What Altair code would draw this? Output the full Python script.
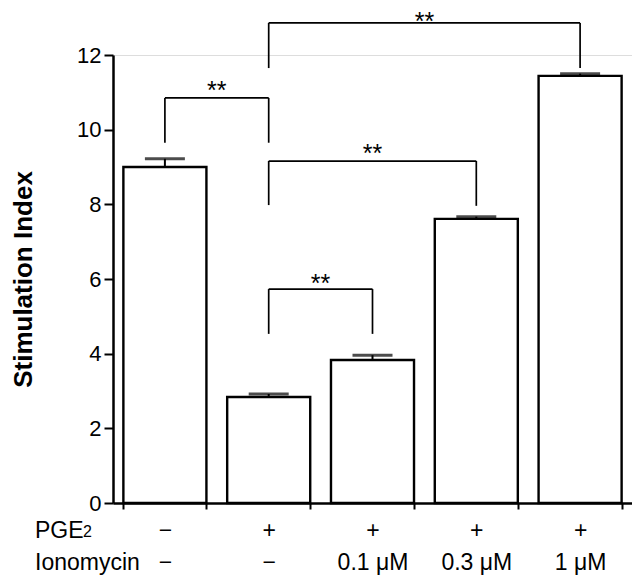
import altair as alt
import pandas as pd

# ---- data ----
pge = ["−", "+", "+", "+", "+"]
iono = ["−", "−", "0.1 μM", "0.3 μM", "1 μM"]
means = [9.0, 2.84, 3.83, 7.61, 11.44]
errs = [0.22, 0.08, 0.13, 0.06, 0.06]

# significance brackets (bar index from / to, heights in y units)
br_from = [0, 1, 1, 1]
br_to = [1, 4, 3, 2]
br_top = [10.85, 12.86, 9.16, 5.73]
br_from_end = [9.65, 11.65, 7.98, 4.53]
br_to_end = [9.65, 11.65, 7.96, 4.53]
br_star = [11.2, 13.05, 9.51, 6.03]
br_text = ["**", "**", "**", "**"]

FONT = "Liberation Sans"

cats = [f"{a}|{b}" for a, b in zip(pge, iono)]
bars = pd.DataFrame({
    "cat": cats,
    "mean": means,
    "hi": [m + e for m, e in zip(means, errs)],
})
brk = pd.DataFrame({
    "a": br_from,
    "b": br_to,
    "top": br_top,
    "ea": br_from_end,
    "eb": br_to_end,
    "sy": br_star,
    "mid": [(a + b) / 2 for a, b in zip(br_from, br_to)],
    "t": br_text,
})

xband = alt.Scale(domain=cats, paddingInner=0.2, paddingOuter=0.1)
xq = alt.Scale(domain=[-0.5, 4.5], nice=False, zero=False)
yscale = alt.Scale(domain=[0, 12], nice=False, zero=True)
YT = "Stimulation Index"

yaxis = alt.Axis(
    values=[0, 2, 4, 6, 8, 10, 12], grid=False, domainColor="black", domainWidth=2.5,
    tickColor="black", tickWidth=2, tickSize=9, labelPadding=3,
    labelFont=FONT, labelFontSize=22, labelColor="black",
    titleFont=FONT, titleFontSize=26, titleFontWeight="bold", titleColor="black",
    titleX=-90, titleY=224, titleAngle=270, titleAlign="center", titleBaseline="middle",
)
xaxis = alt.Axis(
    labelExpr="split(datum.label, '|')", labelAngle=0, labelLineHeight=32,
    labelBaseline="top", labelFont=FONT, labelFontSize=23, labelColor="black",
    labelPadding=10, tickBand="extent", tickSize=6, tickWidth=2, tickColor="black",
    domainColor="black", domainWidth=2.5, grid=False,
)

base = alt.Chart(bars)
bar_layer = base.mark_bar(fill="white", stroke="black", strokeWidth=2.4).encode(
    x=alt.X("cat:N", sort=cats, scale=xband, title=None, axis=xaxis),
    y=alt.Y("mean:Q", scale=yscale, title=YT, axis=yaxis),
)
err_rule = base.mark_rule(color="black", strokeWidth=2).encode(
    x=alt.X("cat:N", sort=cats, scale=xband, axis=None),
    y=alt.Y("mean:Q", title=YT),
    y2="hi:Q",
)
err_cap = base.mark_tick(color="black", thickness=3, size=40).encode(
    x=alt.X("cat:N", sort=cats, scale=xband, axis=None),
    y=alt.Y("hi:Q", title=YT),
)

bb = alt.Chart(brk)
h_rule = bb.mark_rule(color="black", strokeWidth=1.7).encode(
    x=alt.X("a:Q", scale=xq, axis=None), x2="b:Q", y=alt.Y("top:Q", title=YT)
)
va_rule = bb.mark_rule(color="black", strokeWidth=1.7).encode(
    x=alt.X("a:Q", scale=xq, axis=None), y=alt.Y("ea:Q", title=YT), y2="top:Q"
)
vb_rule = bb.mark_rule(color="black", strokeWidth=1.7).encode(
    x=alt.X("b:Q", scale=xq, axis=None), y=alt.Y("eb:Q", title=YT), y2="top:Q"
)
stars = bb.mark_text(font=FONT, fontSize=25, color="black", baseline="alphabetic", dy=14).encode(
    x=alt.X("mid:Q", scale=xq, axis=None), y=alt.Y("sy:Q", title=YT), text="t:N"
)

one = alt.Chart(pd.DataFrame({"k": [0]}))
lab_pge = one.mark_text(text="PGE", font=FONT, fontSize=23, color="black",
                        align="left", baseline="alphabetic").encode(
    x=alt.value(-78), y=alt.value(483))
lab_sub = one.mark_text(text="2", font=FONT, fontSize=16, color="black",
                        align="left", baseline="alphabetic").encode(
    x=alt.value(-30), y=alt.value(482))
lab_iono = one.mark_text(text="Ionomycin", font=FONT, fontSize=23, color="black",
                         align="left", baseline="alphabetic").encode(
    x=alt.value(-78), y=alt.value(515))

chart = alt.layer(
    bar_layer, err_rule, err_cap, h_rule, va_rule, vb_rule, stars,
    lab_pge, lab_sub, lab_iono,
).resolve_scale(x="independent").properties(
    width=519, height=448,
    autosize=alt.AutoSizeParams(type="none"),
    padding={"left": 105, "top": 47, "right": 0, "bottom": 72},
).configure_view(stroke=None).configure(background="white")

chart.save("out.html", embed_options={"renderer": "svg", "actions": False})
